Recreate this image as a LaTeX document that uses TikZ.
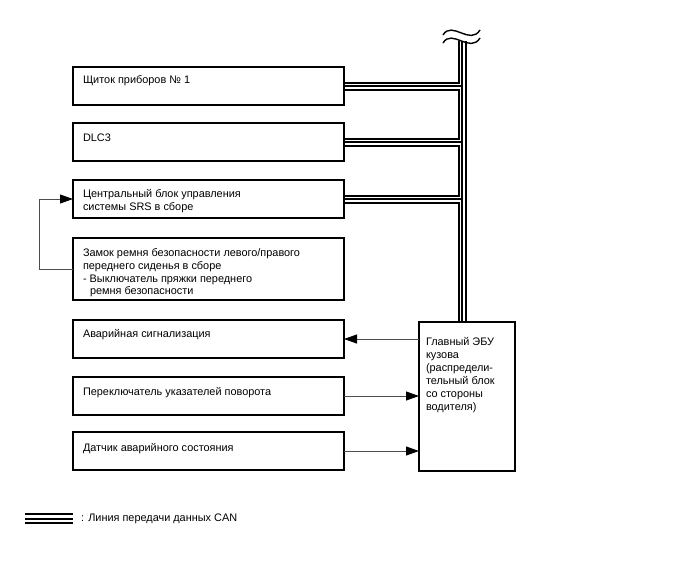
\documentclass[tikz,border=0pt]{standalone}
\usepackage{fontspec}
\setmainfont{Liberation Sans}
\usetikzlibrary{arrows.meta}
\begin{document}
\begin{tikzpicture}[x=1pt,y=-1pt,
  box/.style={draw,line width=1.8pt,anchor=north west,inner sep=0pt,outer sep=0pt,minimum width=271pt},
  txt/.style={anchor=north west,inner sep=0pt,outer sep=0pt,align=left,font=\fontsize{10.9}{12.8}\selectfont},
  sig/.style={draw=black!70,line width=0.9pt,-{Triangle[length=13pt,width=9pt,color=black]}},
  tilde/.style={line width=1.4pt},
]
\useasboundingbox[fill=white] (0,0) rectangle (688,560);

% boxes
\node[box,minimum height=38pt] (b1) at (73,67) {};
\node[box,minimum height=38pt] (b2) at (73,123) {};
\node[box,minimum height=38pt] (b3) at (73,180) {};
\node[box,minimum height=62pt] (b4) at (73,238) {};
\node[box,minimum height=38pt] (b5) at (73,320) {};
\node[box,minimum height=38pt] (b6) at (73,377) {};
\node[box,minimum height=38pt] (b7) at (73,432) {};
\node[box,minimum width=96pt,minimum height=149pt] (ecu) at (419,322) {};

% texts
\node[txt] (t1) at (83,76) {Щиток приборов № 1};
\node[txt] (t2) at (83,133.5) {DLC3};
\node[txt] (t3) at (83,189.5) {Центральный блок управления\\системы SRS в сборе};
\node[txt] (t4) at (83,248.5) {Замок ремня безопасности левого/правого\\переднего сиденья в сборе\\- Выключатель пряжки переднего\\\hspace*{7pt}ремня безопасности};
\node[txt] (t5) at (83,329) {Аварийная сигнализация};
\node[txt] (t6) at (83,387) {Переключатель указателей поворота};
\node[txt] (t7) at (83,443.5) {Датчик аварийного состояния};
\node[txt,font=\fontsize{10.9}{13}\selectfont] (te) at (426,337) {Главный ЭБУ\\кузова\\(распредели-\\тельный блок\\со стороны\\водителя)};

% CAN bus
\coordinate (bustop) at (462,41);
\coordinate (la) at (25,518.5);
\coordinate (lb) at (73,518.5);
\foreach \w/\c in {9/black,5/white,2/black}{
  \draw[line width=\w pt,\c] (bustop) -- ([yshift=0.9pt]bustop |- ecu.north);
  \draw[line width=\w pt,\c] ([xshift=0.9pt]b1.east) -- (bustop |- b1.east);
  \draw[line width=\w pt,\c] ([xshift=0.9pt]b2.east) -- (bustop |- b2.east);
  \draw[line width=\w pt,\c] ([xshift=0.9pt]b3.east) -- (bustop |- b3.east);
}
\foreach \w/\c in {10.5/black,6.5/white,2/black}{
  \draw[line width=\w pt,\c] (la) -- (lb);
}
\node[anchor=base west,inner sep=0pt,font=\fontsize{10.9}{12}\selectfont] (leg) at (81,521.5) {: Линия передачи данных CAN};

% break symbol
\draw[tilde] (443,35) .. controls (452,20) and (470,46) .. (480,30);
\draw[tilde] (443,43) .. controls (452,28) and (470,54) .. (480,38);

% signal lines
\draw[sig] (ecu.west |- b5.east) -- (b5.east);
\draw[sig] (b6.east) -- (ecu.west |- b6.east);
\draw[sig] (b7.east) -- (ecu.west |- b7.east);
\coordinate (fb) at (39,0);
\draw[sig] (b4.west) -- (b4.west -| fb) |- (b3.west);
\end{tikzpicture}
\end{document}
